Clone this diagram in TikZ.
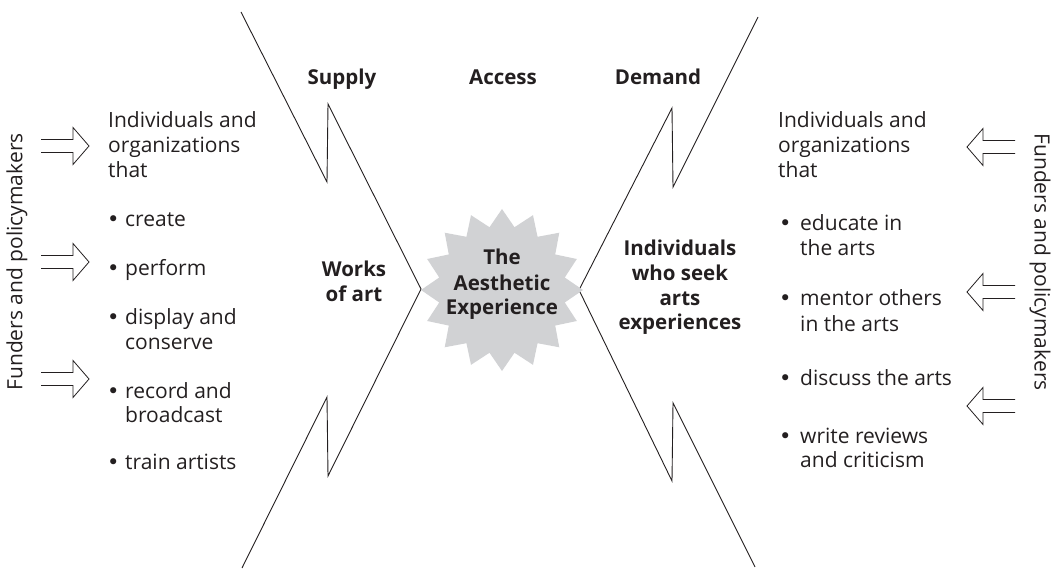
\documentclass[tikz,border=0pt]{standalone}
\usepackage{fontspec}
\setmainfont{Open Sans}
\newfontfamily\dejavu{DejaVu Sans}
\usetikzlibrary{calc}
\definecolor{ink}{RGB}{35,31,32}
\definecolor{starfill}{RGB}{209,210,212}
\tikzset{
  txt/.style={anchor=base west, inner sep=0pt, text=ink, font=\fontsize{21}{25}\selectfont},
  bul/.style={anchor=base west, inner sep=0pt, text=ink, font=\dejavu\fontsize{21}{25}\selectfont},
  btxt/.style={anchor=base, inner sep=0pt, text=ink, font=\fontsize{20.5}{25}\selectfont\bfseries},
  zig/.style={draw=ink, line width=0.9pt, line join=miter},
  arr/.style={draw=ink, line width=0.8pt, line join=miter},
  rarrow/.pic={\draw[arr] (0,-6.5) -- (32,-6.5) -- (32,-18.5) -- (48,0) -- (32,18.5) -- (32,6.5) -- (0,6.5);},
  larrow/.pic={\draw[arr] (0,-6.5) -- (-32,-6.5) -- (-32,-18.5) -- (-48,0) -- (-32,18.5) -- (-32,6.5) -- (0,6.5);}
}
\begin{document}
\begin{tikzpicture}[x=1pt,y=-1pt]
\useasboundingbox (0,0) rectangle (1055,569);
% zigzag lines
\coordinate (lapex) at (421,289);
\coordinate (rapex) at (579,290);
\draw[zig] (241,12) -- (327,182) -- (328,104) -- (lapex) -- (328,476) -- (327,397) -- (242,568);
\draw[zig] (758,17) -- (673,187) -- (672,108) -- (rapex) -- (672,481) -- (673,403) -- (755,567);
% star burst
\coordinate (sc) at (502,290);
\fill[starfill] ($(sc)+(90:81)$)
  \foreach \k in {1,...,31} { -- ($(sc)+({90+\k*11.25}:{ifthenelse(mod(\k,2)==0,81,64)})$) } -- cycle;
\node[btxt] (t1) at (502,265) {The};
\node[btxt] (t2) at (502,291) {Aesthetic};
\node[btxt] (t3) at (502,315) {Experience};
% headings
\node[btxt] (supply) at (342,85) {Supply};
\node[btxt] (access) at (503,85) {Access};
\node[btxt] (demand) at (658,85) {Demand};
\node[btxt] (w1) at (354,277) {Works};
\node[btxt] (w2) at (354,302) {of art};
\node[btxt] (i1) at (680,256) {Individuals};
\node[btxt] (i2) at (680,281) {who seek};
\node[btxt] (i3) at (680,306) {arts};
\node[btxt] (i4) at (680,330) {experiences};
% left list
\node[txt] (l1) at (108,128) {Individuals and};
\node[txt] (l2) at (108,153) {organizations};
\node[txt] (l3) at (108,178) {that};
\foreach \y/\t [count=\n] in {227/create,276/perform,325/display and,398/record and,469/train artists}{
  \node[bul] (lb\n) at (107,\y) {•};
  \node[txt] (lt\n) at (125,\y) {\t};
}
\node[txt] (lc1) at (125,349) {conserve};
\node[txt] (lc2) at (125,422) {broadcast};
% right list
\node[txt] (r1) at (778,128) {Individuals and};
\node[txt] (r2) at (778,153) {organizations};
\node[txt] (r3) at (778,178) {that};
\foreach \y/\t [count=\n] in {231/educate in,306/mentor others,385/discuss the arts,443/write reviews}{
  \node[bul] (rb\n) at (779,\y) {•};
  \node[txt] (rt\n) at (800,\y) {\t};
}
\node[txt] (rc1) at (800,256) {the arts};
\node[txt] (rc2) at (800,331) {in the arts};
\node[txt] (rc3) at (800,467) {and criticism};
% funders
\node[inner sep=0pt, text=ink, font=\fontsize{21}{25}\selectfont, rotate=90] (fl) at (17,262) {Funders and policymakers};
\node[inner sep=0pt, text=ink, font=\fontsize{21}{25}\selectfont, rotate=-90] (fr) at (1040,262) {Funders and policymakers};
% arrows
\pic at (41,146) {rarrow};
\pic at (41,262) {rarrow};
\pic at (41,379) {rarrow};
\pic at (1015,147) {larrow};
\pic at (1015,292) {larrow};
\pic at (1015,406) {larrow};
\end{tikzpicture}
\end{document}
